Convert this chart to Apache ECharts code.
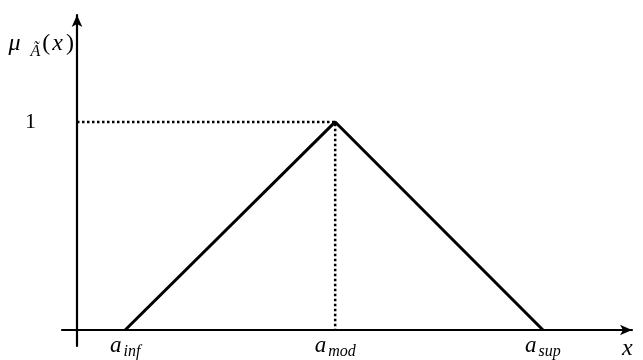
<!DOCTYPE html>
<html>
<head>
<meta charset="utf-8">
<script src="https://cdn.jsdelivr.net/npm/echarts@6/dist/echarts.min.js"></script>
<style>
  html, body { margin: 0; padding: 0; background: #fff; }
  #chart { width: 643px; height: 360px; }
</style>
</head>
<body>
<div id="chart"></div>
<script>
// triangular membership function: a_inf, a_mod, a_sup
var pointNames = ['inf', 'mod', 'sup'];
var pointX = [0.86, 4.61, 8.32];
var pointY = [0, 1, 0];
var yTicks = [1];

var myChart = echarts.init(document.getElementById('chart'));

var mathFont = '"Liberation Serif", "DejaVu Serif", serif';

var triangle = [];
for (var i = 0; i < pointX.length; i++) {
    triangle.push([pointX[i], pointY[i]]);
}
var guide = [[0, pointY[1]], [pointX[1], pointY[1]], [pointX[1], 0]];

var option = {
    animation: false,
    backgroundColor: '#fff',
    grid: {
        left: 62,
        right: 11,
        top: 15,
        bottom: 14,
        containLabel: false,
        outerBoundsMode: 'none'
    },
    xAxis: {
        type: 'value',
        min: -0.268,
        max: 9.91,
        splitLine: { show: false },
        axisLine: {
            onZero: true,
            symbol: ['none', 'arrow'],
            symbolSize: [8, 12],
            lineStyle: { color: '#000', width: 2.2 }
        },
        axisTick: { show: false },
        axisLabel: {
            customValues: pointX,
            margin: -9,
            hideOverlap: false,
            formatter: function (v) {
                var idx = pointX.indexOf(v);
                return '{a|a}{s|' + pointNames[idx] + '}';
            },
            rich: {
                a: { fontFamily: mathFont, fontStyle: 'italic', fontSize: 23, lineHeight: 18, color: '#000' },
                s: { fontFamily: mathFont, fontStyle: 'italic', fontSize: 16, lineHeight: 14, color: '#000', padding: [11, 0, 0, 2] }
            }
        },
        name: 'x',
        nameLocation: 'end',
        nameGap: -10,
        nameTextStyle: {
            fontFamily: mathFont,
            fontStyle: 'italic',
            fontSize: 24,
            color: '#000',
            verticalAlign: 'top',
            padding: [7, 0, 0, 0]
        }
    },
    yAxis: {
        type: 'value',
        min: -0.077,
        max: 1.514,
        splitLine: { show: false },
        axisLine: {
            onZero: true,
            symbol: ['none', 'arrow'],
            symbolSize: [8, 12],
            lineStyle: { color: '#000', width: 2.2 }
        },
        axisTick: { show: false },
        axisLabel: {
            customValues: yTicks,
            margin: 26,
            fontFamily: mathFont,
            fontSize: 22,
            color: '#000'
        },
        name: '{m|μ}{s|Ã}{p|(}{x|x}{p|)}',
        nameLocation: 'end',
        nameGap: -45,
        nameTextStyle: {
            align: 'right',
            padding: [0, 3, 0, 0],
            rich: {
                m: { fontFamily: mathFont, fontStyle: 'italic', fontSize: 24, color: '#000', padding: [0, 3, 0, 0] },
                s: { fontFamily: mathFont, fontStyle: 'italic', fontSize: 16, color: '#000', padding: [16, 2, 0, 7] },
                p: { fontFamily: mathFont, fontSize: 24, color: '#000' },
                x: { fontFamily: mathFont, fontStyle: 'italic', fontSize: 24, color: '#000', padding: [0, 3, 0, 2] }
            }
        }
    },
    series: [
        {
            type: 'line',
            data: guide,
            symbol: 'none',
            silent: true,
            lineStyle: { color: '#000', width: 2.5, type: [2.5, 2.5] }
        },
        {
            type: 'line',
            data: triangle,
            symbol: 'none',
            silent: true,
            lineStyle: { color: '#000', width: 3 }
        }
    ]
};
myChart.setOption(option);
</script>
</body>
</html>
